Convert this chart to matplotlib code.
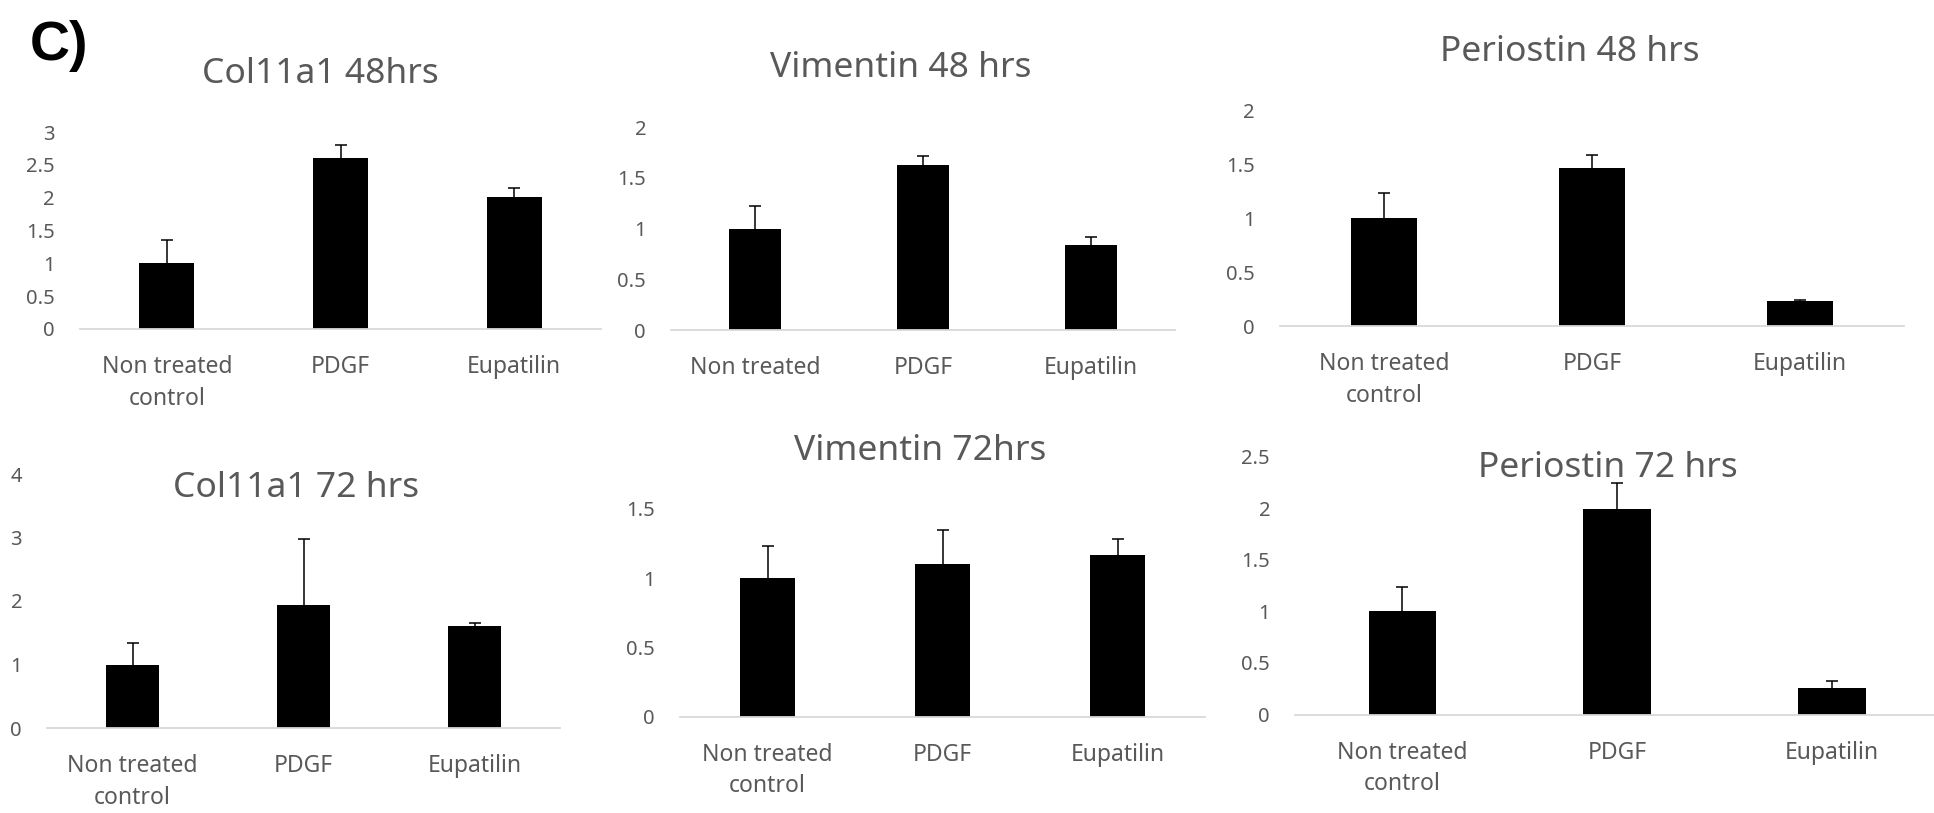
import numpy as np
import matplotlib
matplotlib.use("Agg")
import matplotlib.pyplot as plt

plt.rcParams['font.family'] = ['Noto Sans', 'DejaVu Sans']

# data (fold change, mean and upper error)
categories = ["Non treated\ncontrol", "PDGF", "Eupatilin"]
categories_cut = ["Non treated", "PDGF", "Eupatilin"]

col11a1_48 = [1.00, 2.61, 2.01]
col11a1_48_err = [0.35, 0.19, 0.14]
vimentin_48 = [1.00, 1.63, 0.84]
vimentin_48_err = [0.22, 0.08, 0.08]
periostin_48 = [1.00, 1.47, 0.23]
periostin_48_err = [0.24, 0.12, 0.01]

col11a1_72 = [1.00, 1.93, 1.61]
col11a1_72_err = [0.34, 1.05, 0.04]
vimentin_72 = [1.00, 1.10, 1.17]
vimentin_72_err = [0.23, 0.25, 0.11]
periostin_72 = [1.00, 1.99, 0.26]
periostin_72_err = [0.24, 0.25, 0.06]

titles = ["Col11a1 48hrs", "Vimentin 48 hrs", "Periostin 48 hrs",
          "Col11a1 72 hrs", "Vimentin 72hrs", "Periostin 72 hrs"]
y_max = [3, 2, 2, 4, 1.5, 2.5]
y_step = [0.5, 0.5, 0.5, 1, 0.5, 0.5]

W, H = 1934, 813
GRAY = '#595959'

fig = plt.figure(figsize=(W / 100, H / 100), dpi=100)

# (left px, axis-line y px, category spacing px, top-tick y px)
layout = [
    (80, 329, 173.7, 132),
    (671, 330, 168, 127),
    (1280, 326, 208, 111),
    (47, 728, 171, 474),
    (680, 716.5, 175, 509),
    (1295, 714.5, 214.8, 456.5),
]
# title centre x, baseline y (px from top)
title_pos = [(320, 83), (901, 77), (1570, 61), (296, 497), (920, 460), (1608, 477)]

panels = [
    (col11a1_48, col11a1_48_err, categories),
    (vimentin_48, vimentin_48_err, categories_cut),
    (periostin_48, periostin_48_err, categories),
    (col11a1_72, col11a1_72_err, categories),
    (vimentin_72, vimentin_72_err, categories),
    (periostin_72, periostin_72_err, categories),
]

for i, (vals, errs, cats) in enumerate(panels):
    x0, ybase, sp, ytop = layout[i]
    ax = fig.add_axes([x0 / W, (H - ybase) / H, 3 * sp / W, (ybase - ytop) / H])
    x = np.arange(len(vals))
    vals = np.array(vals)
    errs = np.array(errs)
    ax.bar(x, vals, width=0.315, color='black', zorder=2)
    # plus-only error bars, cap only on top
    ax.errorbar(x, vals, yerr=[np.zeros(len(errs)), errs], fmt='none',
                ecolor='black', elinewidth=1.1, capsize=0, zorder=1)
    ax.plot(x, vals + errs, ls='none', marker='_', markersize=8.6,
            markeredgewidth=1.1, color='black', zorder=1)
    ax.set_xlim(-0.5, 2.5)
    ax.set_ylim(0, y_max[i])
    ticks = np.arange(0, y_max[i] + 1e-9, y_step[i])
    ax.set_yticks(ticks)
    ax.set_yticklabels([f"{t:g}" for t in ticks])
    ax.set_xticks(x)
    ax.set_xticklabels(cats, linespacing=1.4)
    for s in ['top', 'right', 'left']:
        ax.spines[s].set_visible(False)
    ax.spines['bottom'].set_color('#d9d9d9')
    ax.spines['bottom'].set_linewidth(1.3)
    ax.tick_params(axis='y', length=0, pad=18, labelsize=14.5, labelcolor=GRAY)
    ax.tick_params(axis='x', length=0, pad=19, labelsize=16.5, labelcolor=GRAY)
    ax.patch.set_alpha(0)
    tx, ty = title_pos[i]
    fig.text(tx / W, (H - ty) / H, titles[i], ha='center', va='baseline',
             fontsize=25.5, color=GRAY)

fig.text(30 / W, (H - 60) / H, "C)", ha='left', va='baseline',
         fontsize=40, fontweight='bold', family='Liberation Sans', color='black')

fig.savefig("out.png", dpi=100)
